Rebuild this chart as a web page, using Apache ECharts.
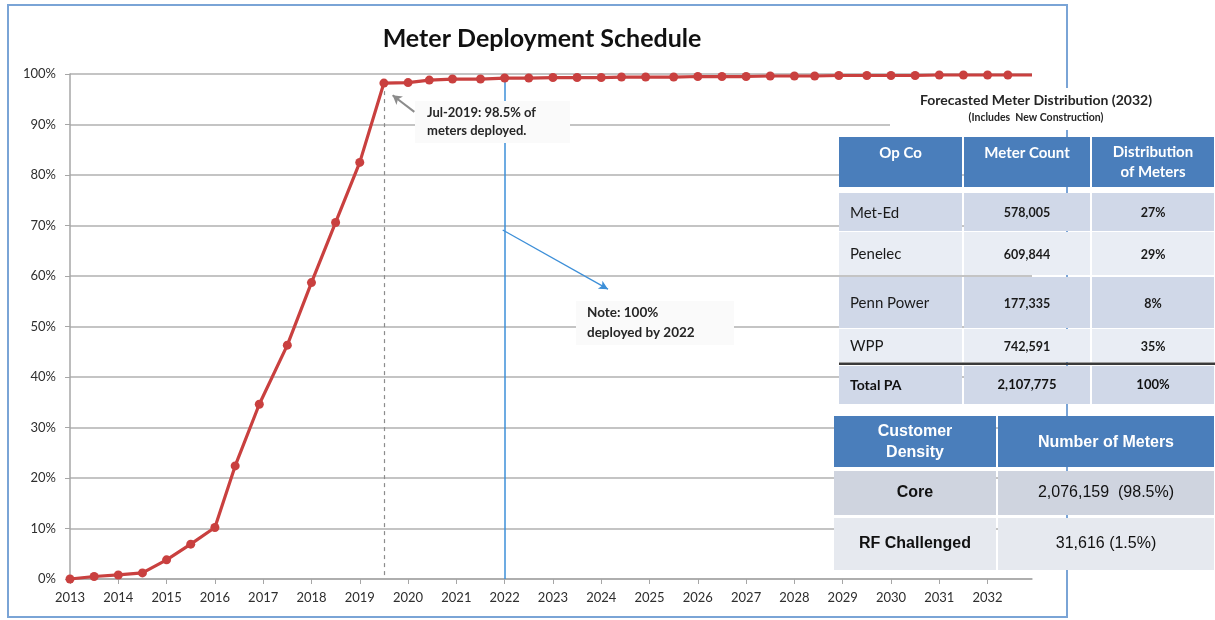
<!DOCTYPE html>
<html><head><meta charset="utf-8">
<script src="https://cdn.jsdelivr.net/npm/echarts@6/dist/echarts.min.js"></script>
<style>html,body{margin:0;padding:0;background:#fff}#c{width:1215px;height:620px}</style>
</head><body><div id="c"></div>
<script>
// ---- data ----
const years = [2013,2013.5,2014,2014.5,2015,2015.5,2016,2016.42,2016.92,2017.5,2018,2018.5,2019,2019.5,2020,
  2020.44,2020.92,2021.5,2022,2022.5,2023,2023.5,2024,2024.42,2024.92,2025.5,2026,2026.5,2027,2027.5,2028,
  2028.42,2028.92,2029.5,2030,2030.5,2031,2031.5,2032,2032.42,2032.92];
const deployed = [0,0.5,0.8,1.2,3.8,6.9,10.2,22.4,34.6,46.3,58.7,70.6,82.5,98.2,98.3,
  98.8,99.0,99.0,99.2,99.2,99.3,99.3,99.3,99.4,99.4,99.4,99.5,99.5,99.5,99.6,99.6,
  99.6,99.7,99.7,99.7,99.7,99.8,99.8,99.8,99.8,99.8];
const xTickYears = [2013,2014,2015,2016,2017,2018,2019,2020,2021,2022,2023,2024,2025,2026,2027,2028,2029,2030,2031,2032];
const yTicks = [0,10,20,30,40,50,60,70,80,90,100];

const milestone = {x: 2019.5, y: 98.2, text: 'Jul-2019: 98.5% of\nmeters deployed.'};
const fullDeploy = {x: 2022, y: 99.2, text: 'Note: 100%\ndeployed by 2022'};

const distTitle = 'Forecasted Meter Distribution (2032)';
const distSubtitle = '(Includes  New Construction)';
const distHeaders = ['Op Co', 'Meter Count', 'Distribution\nof Meters'];
const opCos = ['Met-Ed', 'Penelec', 'Penn Power', 'WPP'];
const meterCounts = ['578,005', '609,844', '177,335', '742,591'];
const distShares = ['27%', '29%', '8%', '35%'];
const totalRow = ['Total PA', '2,107,775', '100%'];

const densityHeaders = ['Customer\nDensity', 'Number of Meters'];
const densityNames = ['Core', 'RF Challenged'];
const densityCounts = ['2,076,159  (98.5%)', '31,616 (1.5%)'];

// ---- chart ----
const chart = echarts.init(document.getElementById('c'), null, {renderer: 'canvas'});
const RED = '#c9403f';
const FONT = 'Lato, "Open Sans", sans-serif';

const lineData = years.map((y, i) => ({
  value: [y, deployed[i]],
  symbol: i === years.length - 1 ? 'none' : 'circle'
}));

const g = [];
// outer frame
g.push({type: 'rect', z: 1, shape: {x: 8, y: 5, width: 1059, height: 612},
  style: {fill: 'none', stroke: '#7aa4d6', lineWidth: 2}});
// annotation boxes
g.push({type: 'rect', z: 50, shape: {x: 415, y: 101, width: 155, height: 42}, style: {fill: '#fafafa'}});
g.push({type: 'text', z: 51, style: {text: milestone.text, x: 427, y: 104, font: 'bold 13px ' + FONT,
  fill: '#262626', lineHeight: 18}});
g.push({type: 'rect', z: 50, shape: {x: 576, y: 301, width: 158, height: 44}, style: {fill: '#fafafa'}});
g.push({type: 'text', z: 51, style: {text: fullDeploy.text, x: 587, y: 303, font: 'bold 13.5px ' + FONT,
  fill: '#262626', lineHeight: 20}});

// table 1
g.push({type: 'rect', z: 50, shape: {x: 890, y: 88, width: 325, height: 42}, style: {fill: '#fff'}});
g.push({type: 'text', z: 51, style: {text: distTitle, x: 1036, y: 100, font: 'bold 14px ' + FONT,
  fill: '#262626', align: 'center', verticalAlign: 'middle'}});
g.push({type: 'text', z: 51, style: {text: distSubtitle, x: 1036, y: 118, font: 'bold 10.5px ' + FONT,
  fill: '#262626', align: 'center', verticalAlign: 'middle'}});
const c1 = [839, 964, 1092, 1216];
const hdr1 = [137, 187];
const rows1 = [[193, 231], [232, 275], [277, 328], [329, 362]];
const tot1 = [366, 404];
for (let j = 0; j < 3; j++) {
  g.push({type: 'rect', z: 50, shape: {x: c1[j], y: hdr1[0], width: c1[j+1] - c1[j] - 2, height: hdr1[1] - hdr1[0]},
    style: {fill: '#4a7ebb'}});
  g.push({type: 'text', z: 51, style: {text: distHeaders[j], x: (c1[j] + c1[j+1]) / 2 - 1, y: j === 2 ? 162.5 : 153,
    font: 'bold 15px ' + FONT, fill: '#fff', align: 'center', verticalAlign: 'middle', lineHeight: 20}});
}
rows1.forEach((r, i) => {
  const cells = [opCos[i], meterCounts[i], distShares[i]];
  for (let j = 0; j < 3; j++) {
    g.push({type: 'rect', z: 50, shape: {x: c1[j], y: r[0], width: c1[j+1] - c1[j] - 2, height: r[1] - r[0]},
      style: {fill: i % 2 === 0 ? '#d0d8e8' : '#e9edf4'}});
    g.push({type: 'text', z: 51, style: {text: cells[j], x: j === 0 ? 850 : (c1[j] + c1[j+1]) / 2 - 1,
      y: (r[0] + r[1]) / 2 + 1, font: (j === 0 ? '15px ' : 'bold 12.5px ') + FONT, fill: '#1a1a1a',
      align: j === 0 ? 'left' : 'center', verticalAlign: 'middle'}});
  }
});
g.push({type: 'rect', z: 52, shape: {x: 839, y: 362.5, width: 377, height: 2.5}, style: {fill: '#3a3a3a'}});
for (let j = 0; j < 3; j++) {
  g.push({type: 'rect', z: 50, shape: {x: c1[j], y: tot1[0], width: c1[j+1] - c1[j] - 2, height: tot1[1] - tot1[0]},
    style: {fill: '#d0d8e8'}});
  g.push({type: 'text', z: 51, style: {text: totalRow[j], x: j === 0 ? 850 : (c1[j] + c1[j+1]) / 2 - 1,
    y: (tot1[0] + tot1[1]) / 2, font: (j === 0 ? 'bold 14px ' : 'bold 13px ') + FONT, fill: '#111',
    align: j === 0 ? 'left' : 'center', verticalAlign: 'middle'}});
}

// table 2
const c2 = [834, 998, 1216];
const hdr2 = [416, 467];
const rows2 = [[471, 515], [518, 570]];
const ARIAL = '"Liberation Sans", Arial, sans-serif';
for (let j = 0; j < 2; j++) {
  g.push({type: 'rect', z: 50, shape: {x: c2[j], y: hdr2[0], width: c2[j+1] - c2[j] - 2, height: hdr2[1] - hdr2[0]},
    style: {fill: '#4a7ebb'}});
  g.push({type: 'text', z: 51, style: {text: densityHeaders[j], x: (c2[j] + c2[j+1]) / 2 - 1, y: 442.5,
    font: 'bold 16px ' + ARIAL, fill: '#fff', align: 'center', verticalAlign: 'middle', lineHeight: 21}});
}
rows2.forEach((r, i) => {
  const cells = [densityNames[i], densityCounts[i]];
  for (let j = 0; j < 2; j++) {
    g.push({type: 'rect', z: 50, shape: {x: c2[j], y: r[0], width: c2[j+1] - c2[j] - 2, height: r[1] - r[0]},
      style: {fill: i === 0 ? '#cfd4df' : '#e6e9ef'}});
    g.push({type: 'text', z: 51, style: {text: cells[j], x: (c2[j] + c2[j+1]) / 2 - 1, y: (r[0] + r[1]) / 2,
      font: (j === 0 ? 'bold 16px ' : '16px ') + ARIAL, fill: '#111',
      align: 'center', verticalAlign: 'middle'}});
  }
});

const option = {
  animation: false,
  backgroundColor: '#fff',
  title: {
    text: 'Meter Deployment Schedule', left: 537, top: 21, textAlign: 'center',
    textStyle: {fontFamily: FONT, fontWeight: 'bold', fontSize: 25, color: '#111'}
  },
  grid: {left: 70, right: 183, top: 74, bottom: 41, outerBoundsMode: 'none'},
  xAxis: {
    type: 'value', min: 2013, max: 2032.92, interval: 1,
    axisLine: {show: true, lineStyle: {color: '#a6a6a6', width: 1.5}},
    axisTick: {show: true, length: 5, lineStyle: {color: '#a6a6a6'}, customValues: xTickYears},
    axisLabel: {customValues: xTickYears, formatter: v => String(v), color: '#2e2e2e',
      fontFamily: FONT, fontSize: 13, margin: 12},
    splitLine: {show: false}
  },
  yAxis: {
    type: 'value', min: 0, max: 100, interval: 10,
    axisLine: {show: true, lineStyle: {color: '#a6a6a6', width: 1.5}},
    axisTick: {show: true, length: 5, lineStyle: {color: '#a6a6a6'}},
    axisLabel: {formatter: '{value}%', color: '#2e2e2e', fontFamily: FONT, fontSize: 13, margin: 14},
    splitLine: {show: true, lineStyle: {color: '#b0b0b0', width: 1.5}}
  },
  series: [{
    type: 'line', data: lineData, symbolSize: 9, z: 5,
    itemStyle: {color: RED}, lineStyle: {color: RED, width: 3.2},
    markLine: {
      silent: true, symbol: 'none', label: {show: false}, z: 3,
      data: [
        [{coord: [milestone.x, milestone.y], lineStyle: {color: '#8c8c8c', type: [4, 4], width: 1.2}},
         {coord: [milestone.x, 0]}],
        [{coord: [fullDeploy.x, fullDeploy.y], lineStyle: {color: '#3d8fd8', type: 'solid', width: 1.5}},
         {coord: [fullDeploy.x, 0]}],
        [{coord: [2020.13, 92.5], symbol: 'none', lineStyle: {color: '#8c8c8c', type: 'solid', width: 2}},
         {coord: [2019.68, 95.8], symbol: 'arrow', symbolSize: [8, 9]}],
        [{coord: [2021.96, 69.1], symbol: 'none', lineStyle: {color: '#3d8fd8', type: 'solid', width: 1.3}},
         {coord: [2024.14, 57.4], symbol: 'arrow', symbolSize: [7, 9]}]
      ]
    }
  }],
  graphic: g
};
chart.setOption(option);
</script>
</body></html>
